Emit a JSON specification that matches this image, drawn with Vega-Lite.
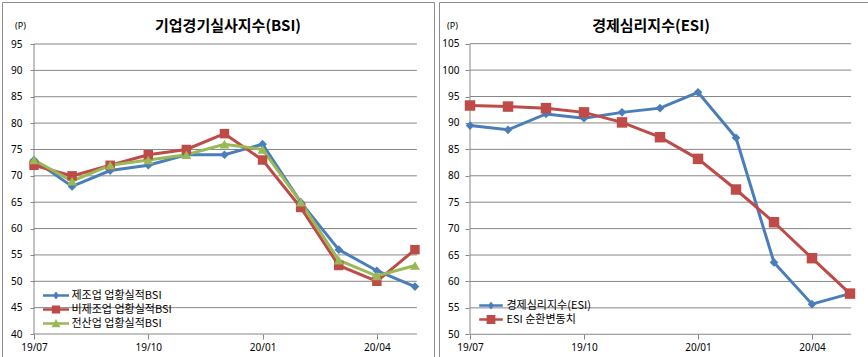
{
  "$schema": "https://vega.github.io/schema/vega-lite/v6.json",
  "padding": {"left": 1, "top": 1, "right": 0, "bottom": 0},
  "spacing": 3,
  "background": "white",
  "config": {
    "view": {"stroke": "#8c8c8c", "strokeWidth": 1},
    "axis": {"labelFont": "Noto Sans", "labelFontSize": 10, "labelColor": "#000000", "tickColor": "#868686", "labelFlush": false, "labelOverlap": false, "grid": false, "domain": false},
    "title": {"font": "Noto Sans CJK KR", "fontSize": 15, "fontWeight": "bold", "color": "#000000", "anchor": "middle", "baseline": "middle"}
  },
  "datasets": {
    "bsi": [
      {"month": "19/07", "i": 0, "series": "제조업 업황실적BSI", "value": 73},
      {"month": "19/08", "i": 1, "series": "제조업 업황실적BSI", "value": 68},
      {"month": "19/09", "i": 2, "series": "제조업 업황실적BSI", "value": 71},
      {"month": "19/10", "i": 3, "series": "제조업 업황실적BSI", "value": 72},
      {"month": "19/11", "i": 4, "series": "제조업 업황실적BSI", "value": 74},
      {"month": "19/12", "i": 5, "series": "제조업 업황실적BSI", "value": 74},
      {"month": "20/01", "i": 6, "series": "제조업 업황실적BSI", "value": 76},
      {"month": "20/02", "i": 7, "series": "제조업 업황실적BSI", "value": 65},
      {"month": "20/03", "i": 8, "series": "제조업 업황실적BSI", "value": 56},
      {"month": "20/04", "i": 9, "series": "제조업 업황실적BSI", "value": 52},
      {"month": "20/05", "i": 10, "series": "제조업 업황실적BSI", "value": 49},
      {"month": "19/07", "i": 0, "series": "비제조업 업황실적BSI", "value": 72},
      {"month": "19/08", "i": 1, "series": "비제조업 업황실적BSI", "value": 70},
      {"month": "19/09", "i": 2, "series": "비제조업 업황실적BSI", "value": 72},
      {"month": "19/10", "i": 3, "series": "비제조업 업황실적BSI", "value": 74},
      {"month": "19/11", "i": 4, "series": "비제조업 업황실적BSI", "value": 75},
      {"month": "19/12", "i": 5, "series": "비제조업 업황실적BSI", "value": 78},
      {"month": "20/01", "i": 6, "series": "비제조업 업황실적BSI", "value": 73},
      {"month": "20/02", "i": 7, "series": "비제조업 업황실적BSI", "value": 64},
      {"month": "20/03", "i": 8, "series": "비제조업 업황실적BSI", "value": 53},
      {"month": "20/04", "i": 9, "series": "비제조업 업황실적BSI", "value": 50},
      {"month": "20/05", "i": 10, "series": "비제조업 업황실적BSI", "value": 56},
      {"month": "19/07", "i": 0, "series": "전산업 업황실적BSI", "value": 73},
      {"month": "19/08", "i": 1, "series": "전산업 업황실적BSI", "value": 69},
      {"month": "19/09", "i": 2, "series": "전산업 업황실적BSI", "value": 72},
      {"month": "19/10", "i": 3, "series": "전산업 업황실적BSI", "value": 73},
      {"month": "19/11", "i": 4, "series": "전산업 업황실적BSI", "value": 74},
      {"month": "19/12", "i": 5, "series": "전산업 업황실적BSI", "value": 76},
      {"month": "20/01", "i": 6, "series": "전산업 업황실적BSI", "value": 75},
      {"month": "20/02", "i": 7, "series": "전산업 업황실적BSI", "value": 65},
      {"month": "20/03", "i": 8, "series": "전산업 업황실적BSI", "value": 54},
      {"month": "20/04", "i": 9, "series": "전산업 업황실적BSI", "value": 51},
      {"month": "20/05", "i": 10, "series": "전산업 업황실적BSI", "value": 53}
    ],
    "esi": [
      {"month": "19/07", "i": 0, "series": "경제심리지수(ESI)", "value": 89.5},
      {"month": "19/08", "i": 1, "series": "경제심리지수(ESI)", "value": 88.7},
      {"month": "19/09", "i": 2, "series": "경제심리지수(ESI)", "value": 91.7},
      {"month": "19/10", "i": 3, "series": "경제심리지수(ESI)", "value": 90.9},
      {"month": "19/11", "i": 4, "series": "경제심리지수(ESI)", "value": 92.0},
      {"month": "19/12", "i": 5, "series": "경제심리지수(ESI)", "value": 92.8},
      {"month": "20/01", "i": 6, "series": "경제심리지수(ESI)", "value": 95.8},
      {"month": "20/02", "i": 7, "series": "경제심리지수(ESI)", "value": 87.2},
      {"month": "20/03", "i": 8, "series": "경제심리지수(ESI)", "value": 63.6},
      {"month": "20/04", "i": 9, "series": "경제심리지수(ESI)", "value": 55.7},
      {"month": "20/05", "i": 10, "series": "경제심리지수(ESI)", "value": 57.7},
      {"month": "19/07", "i": 0, "series": "ESI 순환변동치", "value": 93.3},
      {"month": "19/08", "i": 1, "series": "ESI 순환변동치", "value": 93.1},
      {"month": "19/09", "i": 2, "series": "ESI 순환변동치", "value": 92.8},
      {"month": "19/10", "i": 3, "series": "ESI 순환변동치", "value": 92.0},
      {"month": "19/11", "i": 4, "series": "ESI 순환변동치", "value": 90.1},
      {"month": "19/12", "i": 5, "series": "ESI 순환변동치", "value": 87.3},
      {"month": "20/01", "i": 6, "series": "ESI 순환변동치", "value": 83.2},
      {"month": "20/02", "i": 7, "series": "ESI 순환변동치", "value": 77.4},
      {"month": "20/03", "i": 8, "series": "ESI 순환변동치", "value": 71.2},
      {"month": "20/04", "i": 9, "series": "ESI 순환변동치", "value": 64.4},
      {"month": "20/05", "i": 10, "series": "ESI 순환변동치", "value": 57.7}
    ],
    "gridL": [{"g": 40}, {"g": 45}, {"g": 50}, {"g": 55}, {"g": 60}, {"g": 65}, {"g": 70}, {"g": 75}, {"g": 80}, {"g": 85}, {"g": 90}, {"g": 95}],
    "gridR": [{"g": 50}, {"g": 55}, {"g": 60}, {"g": 65}, {"g": 70}, {"g": 75}, {"g": 80}, {"g": 85}, {"g": 90}, {"g": 95}, {"g": 100}, {"g": 105}],
    "one": [{"k": 1}]
  },
  "hconcat": [
    {
      "width": 432,
      "height": 355,
      "title": {"text": "기업경기실사지수(BSI)", "offset": -32, "dx": 10},
      "encoding": {
        "y": {"type": "quantitative",
          "scale": {"domain": [35.64, 102.97], "nice": false, "zero": false},
          "axis": {"title": "(P)", "titleAngle": 0, "titleX": -14, "titleY": 23, "titleAlign": "center", "titleBaseline": "middle", "titleFont": "Noto Sans", "titleFontSize": 9, "titleFontWeight": "normal", "titleColor": "#000000",
            "offset": -32, "values": [40, 45, 50, 55, 60, 65, 70, 75, 80, 85, 90, 95], "domain": false, "grid": false, "tickSize": 4, "labelPadding": 8}},
        "x": {"type": "quantitative",
          "scale": {"domain": [-0.84, 10.5], "nice": false, "zero": false},
          "axis": {"title": null, "offset": -23, "values": [0, 3, 6, 9], "labelExpr": "datum.value == 0 ? '19/07' : datum.value == 3 ? '19/10' : datum.value == 6 ? '20/01' : '20/04'", "domain": false, "grid": false, "tickSize": 5, "labelPadding": 3}}
      },
      "layer": [
        {
          "data": {"name": "gridL"},
          "mark": {"type": "rule", "color": "#868686", "strokeWidth": 1},
          "encoding": {"y": {"field": "g"}, "x": {"datum": 0}, "x2": {"datum": 10.05}}
        },
        {
          "data": {"name": "one"},
          "mark": {"type": "rule", "color": "#868686", "strokeWidth": 1},
          "encoding": {"x": {"datum": 0}, "y": {"datum": 40}, "y2": {"datum": 95}}
        },
        {
          "data": {"name": "bsi"},
          "mark": {"type": "line", "strokeWidth": 3},
          "encoding": {
            "x": {"field": "i"},
            "y": {"field": "value"},
            "color": {"field": "series", "type": "nominal",
              "scale": {"domain": ["제조업 업황실적BSI", "비제조업 업황실적BSI", "전산업 업황실적BSI"], "range": ["#4a7ebb", "#be4b48", "#98b954"]},
              "legend": {"orient": "none", "legendX": 48.5, "legendY": 288, "title": null, "padding": 0,
                "labelFont": "Noto Sans CJK KR", "labelFontSize": 11, "labelColor": "#000000", "labelOffset": 10, "rowPadding": 2,
                "symbolSize": 17, "symbolStrokeWidth": 0,
                "encode": {"symbols": {"update": {
                  "shape": {"signal": "datum.value === '제조업 업황실적BSI' ? 'M-6.3,-0.65H6.3V0.65H-6.3ZM-1.5,0L0,-2L1.5,0L0,2Z' : datum.value === '비제조업 업황실적BSI' ? 'M-6.3,-0.65H6.3V0.65H-6.3ZM-2,-2H2V2H-2Z' : 'M-6.3,-0.65H6.3V0.65H-6.3ZM-2.2,1.8L0,-2.2L2.2,1.8Z'"},
                  "size": {"value": 17},
                  "fill": {"signal": "datum.value === '제조업 업황실적BSI' ? '#4a7ebb' : datum.value === '비제조업 업황실적BSI' ? '#be4b48' : '#98b954'"},
                  "fillOpacity": {"value": 1}, "opacity": {"value": 1}}}}}
            },
            "order": {"field": "i"}
          }
        },
        {
          "data": {"name": "bsi"},
          "transform": [{"filter": {"field": "series", "equal": "제조업 업황실적BSI"}}],
          "mark": {"type": "point", "shape": "diamond", "size": 75, "filled": true, "opacity": 1},
          "encoding": {"x": {"field": "i"}, "y": {"field": "value"}, "color": {"field": "series", "type": "nominal", "legend": null}}
        },
        {
          "data": {"name": "bsi"},
          "transform": [{"filter": {"field": "series", "equal": "비제조업 업황실적BSI"}}],
          "mark": {"type": "point", "shape": "square", "size": 90, "filled": true, "opacity": 1},
          "encoding": {"x": {"field": "i"}, "y": {"field": "value"}, "color": {"field": "series", "type": "nominal", "legend": null}}
        },
        {
          "data": {"name": "bsi"},
          "transform": [{"filter": {"field": "series", "equal": "전산업 업황실적BSI"}}],
          "mark": {"type": "point", "shape": "triangle-up", "size": 100, "filled": true, "opacity": 1},
          "encoding": {"x": {"field": "i"}, "y": {"field": "value"}, "color": {"field": "series", "type": "nominal", "legend": null}}
        }
      ]
    },
    {
      "width": 430,
      "height": 355,
      "title": {"text": "경제심리지수(ESI)", "offset": -32, "dx": -3},
      "encoding": {
        "y": {"type": "quantitative",
          "scale": {"domain": [45.7, 112.89], "nice": false, "zero": false},
          "axis": {"title": "(P)", "titleAngle": 0, "titleX": -17, "titleY": 23, "titleAlign": "center", "titleBaseline": "middle", "titleFont": "Noto Sans", "titleFontSize": 9, "titleFontWeight": "normal", "titleColor": "#000000",
            "offset": -30, "values": [50, 55, 60, 65, 70, 75, 80, 85, 90, 95, 100, 105], "domain": false, "grid": false, "tickSize": 4, "labelPadding": 6}},
        "x": {"type": "quantitative",
          "scale": {"domain": [-0.816, 10.5], "nice": false, "zero": false},
          "axis": {"title": null, "offset": -23, "values": [0, 3, 6, 9], "labelExpr": "datum.value == 0 ? '19/07' : datum.value == 3 ? '19/10' : datum.value == 6 ? '20/01' : '20/04'", "domain": false, "grid": false, "tickSize": 5, "labelPadding": 3}}
      },
      "layer": [
        {
          "data": {"name": "gridR"},
          "mark": {"type": "rule", "color": "#868686", "strokeWidth": 1},
          "encoding": {"y": {"field": "g"}, "x": {"datum": 0}, "x2": {"datum": 10.03}}
        },
        {
          "data": {"name": "one"},
          "mark": {"type": "rule", "color": "#868686", "strokeWidth": 1},
          "encoding": {"x": {"datum": 0}, "y": {"datum": 50}, "y2": {"datum": 105}}
        },
        {
          "data": {"name": "esi"},
          "mark": {"type": "line", "strokeWidth": 3},
          "encoding": {
            "x": {"field": "i"},
            "y": {"field": "value"},
            "color": {"field": "series", "type": "nominal",
              "scale": {"domain": ["경제심리지수(ESI)", "ESI 순환변동치"], "range": ["#4a7ebb", "#be4b48"]},
              "legend": {"orient": "none", "legendX": 46.5, "legendY": 298, "title": null, "padding": 0,
                "labelFont": "Noto Sans CJK KR", "labelFontSize": 11, "labelColor": "#000000", "labelOffset": 10, "rowPadding": 2,
                "symbolSize": 16, "symbolStrokeWidth": 0,
                "encode": {"symbols": {"update": {
                  "shape": {"signal": "datum.value === '경제심리지수(ESI)' ? 'M-5.9,-0.65H5.9V0.65H-5.9ZM-1.5,0L0,-2L1.5,0L0,2Z' : 'M-5.9,-0.65H5.9V0.65H-5.9ZM-2.2,-2.2H2.2V2.2H-2.2Z'"},
                  "size": {"value": 16},
                  "fill": {"signal": "datum.value === '경제심리지수(ESI)' ? '#4a7ebb' : '#be4b48'"},
                  "fillOpacity": {"value": 1}, "opacity": {"value": 1}}}}}
            },
            "order": {"field": "i"}
          }
        },
        {
          "data": {"name": "esi"},
          "transform": [{"filter": {"field": "series", "equal": "경제심리지수(ESI)"}}],
          "mark": {"type": "point", "shape": "diamond", "size": 75, "filled": true, "opacity": 1},
          "encoding": {"x": {"field": "i"}, "y": {"field": "value"}, "color": {"field": "series", "type": "nominal", "legend": null}}
        },
        {
          "data": {"name": "esi"},
          "transform": [{"filter": {"field": "series", "equal": "ESI 순환변동치"}}],
          "mark": {"type": "point", "shape": "square", "size": 110, "filled": true, "opacity": 1},
          "encoding": {"x": {"field": "i"}, "y": {"field": "value"}, "color": {"field": "series", "type": "nominal", "legend": null}}
        }
      ]
    }
  ],
  "resolve": {"scale": {"color": "independent", "x": "independent", "y": "independent"}, "legend": {"color": "independent"}}
}
